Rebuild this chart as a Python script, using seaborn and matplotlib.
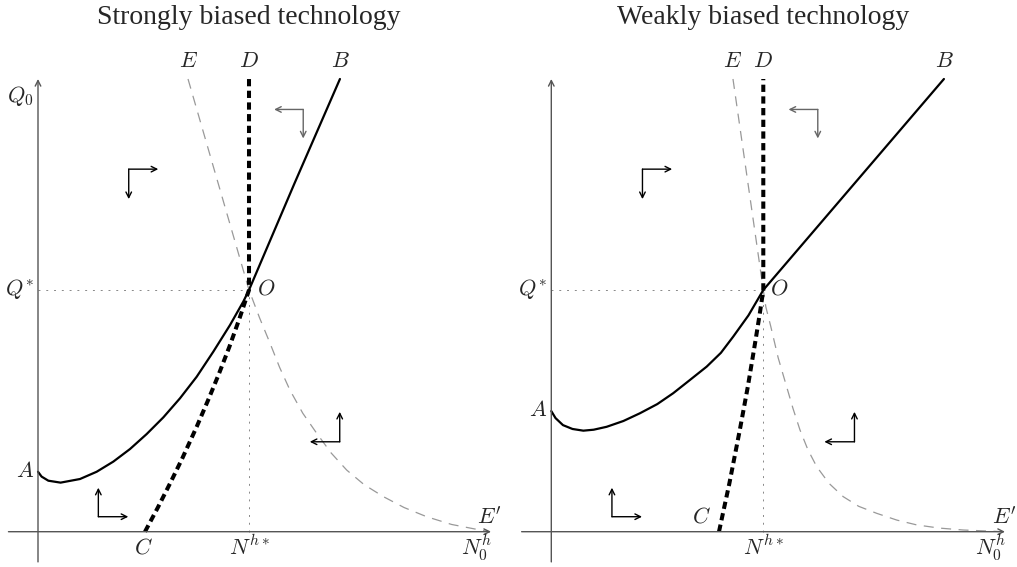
"""Phase diagrams for strongly vs weakly biased technology."""

import matplotlib
matplotlib.use('Agg')
import matplotlib.pyplot as plt
import seaborn as sns

sns.set_style('white')
plt.rcParams['mathtext.fontset'] = 'cm'
plt.rcParams['font.family'] = ['Liberation Serif', 'DejaVu Serif']

# ---- data (units: N^{h*} = 1 on x, Q* = 1 on y) ----
titles = ['Strongly biased technology', 'Weakly biased technology']

# solid curve A -> O -> B
strong_aob_x = [0, 0.017, 0.049, 0.107, 0.199, 0.278, 0.357, 0.436, 0.515, 0.594, 0.673,
                0.752, 0.831, 0.910, 0.973, 1.0, 1.215, 1.431]
strong_aob_y = [0.248, 0.228, 0.211, 0.203, 0.218, 0.248, 0.290, 0.342, 0.404, 0.473, 0.552,
                0.641, 0.745, 0.855, 0.952, 1.0, 1.44, 1.873]
weak_aob_x = [0, 0.02, 0.055, 0.1, 0.151, 0.2, 0.261, 0.34, 0.418, 0.5, 0.575, 0.65, 0.733,
              0.8, 0.858, 0.93, 1.0, 1.852]
weak_aob_y = [0.499, 0.47, 0.441, 0.425, 0.418, 0.422, 0.434, 0.458, 0.490, 0.528, 0.573,
              0.625, 0.683, 0.74, 0.807, 0.895, 1.0, 1.873]

# thick dashed curve C -> O -> D
strong_cod_x = [0.507, 0.568, 0.626, 0.682, 0.752, 0.809, 0.856, 0.907, 0.954, 1.0, 1.0]
strong_cod_y = [0, 0.1, 0.2, 0.3, 0.434, 0.55, 0.65, 0.765, 0.88, 1.0, 1.873]
weak_cod_x = [0.791, 0.840, 0.889, 0.927, 0.963, 0.983, 1.0, 1.0]
weak_cod_y = [0, 0.2, 0.42, 0.6, 0.79, 0.9, 1.0, 1.873]

# thin grey dashed curve E -> O -> E'
strong_eoe_x = [0.711, 1.0, 1.05, 1.10, 1.145, 1.194, 1.255, 1.321, 1.39, 1.463, 1.545,
                1.637, 1.735, 1.842, 1.96, 2.095, 2.142]
strong_eoe_y = [1.873, 1.0, 0.885, 0.779, 0.68, 0.586, 0.49, 0.407, 0.325, 0.255, 0.195,
                0.145, 0.1, 0.062, 0.03, 0.007, 0]
weak_eoe_x = [0.857, 1.0, 1.012, 1.035, 1.07, 1.110, 1.14, 1.173, 1.21, 1.252, 1.31, 1.377,
              1.45, 1.535, 1.63, 1.724, 1.83, 1.943, 2.13]
weak_eoe_y = [1.873, 1.0, 0.93, 0.85, 0.72, 0.600, 0.51, 0.421, 0.34, 0.269, 0.2, 0.145,
              0.105, 0.076, 0.048, 0.028, 0.015, 0.007, 0]

# direction glyphs: corner, horizontal and vertical arrow lengths
glyph_x = [0.43, 1.257, 0.286, 1.43]
glyph_y = [1.50, 1.747, 0.062, 0.372]
glyph_dx = [0.14, -0.138, 0.142, -0.142]
glyph_dy = [-0.124, -0.12, 0.12, 0.124]
glyph_col = ['black', '#666666', 'black', 'black']

# point labels: text, x, y
strong_labels = [
    (r'$E$', 0.711, 1.943), (r'$D$', 1.0, 1.943), (r'$B$', 1.431, 1.943),
    (r'$O$', 1.08, 1.0), (r'$C$', 0.498, -0.068), (r'$N^{h*}$', 1.0, -0.068),
    (r'$N_0^h$', 2.076, -0.068), (r"$E'$", 2.142, 0.057),
]
weak_labels = [
    (r'$E$', 0.857, 1.943), (r'$D$', 1.0, 1.943), (r'$B$', 1.852, 1.943),
    (r'$O$', 1.075, 1.0), (r'$C$', 0.709, 0.06), (r'$N^{h*}$', 1.0, -0.068),
    (r'$N_0^h$', 2.07, -0.068), (r"$E'$", 2.14, 0.057),
]
# labels left of the vertical axis: text, y
strong_side = [(r'$Q_0$', 1.803), (r'$Q^{*}$', 1.0), (r'$A$', 0.247)]
weak_side = [(r'$Q^{*}$', 1.0), (r'$A$', 0.499)]

W, H = 1017, 567
YLIM = (-0.146, 2.034)
ORIGIN_Y, SY = 531.7, 241.7


def draw_panel(ax, aob, cod, eoe, labels, side, x_end, xlim):
    axis_col = '#555555'
    # axes with arrow heads
    ax.annotate('', xy=(x_end, 0), xytext=(-0.14, 0),
                arrowprops=dict(arrowstyle='->', color=axis_col, lw=1.0, shrinkA=0, shrinkB=0))
    ax.annotate('', xy=(0, 1.873), xytext=(0, -0.125),
                arrowprops=dict(arrowstyle='->', color=axis_col, lw=1.0, shrinkA=0, shrinkB=0))
    # steady-state guides
    ax.plot([0, 1], [1, 1], color='#888888', lw=0.7, linestyle=(0, (2, 6)))
    ax.plot([1, 1], [0, 1], color='#888888', lw=0.7, linestyle=(0, (2, 6)))

    sns.lineplot(x=eoe[0], y=eoe[1], ax=ax, sort=False, estimator=None,
                 color='#999999', lw=0.9, linestyle=(0, (8, 6)))
    sns.lineplot(x=aob[0], y=aob[1], ax=ax, sort=False, estimator=None,
                 color='black', lw=1.6)
    sns.lineplot(x=cod[0], y=cod[1], ax=ax, sort=False, estimator=None,
                 color='black', lw=2.9, linestyle=(0, (1.8, 1.1)))

    for gx, gy, dx, dy, c in zip(glyph_x, glyph_y, glyph_dx, glyph_dy, glyph_col):
        for tip in [(gx + dx, gy), (gx, gy + dy)]:
            ax.annotate('', xy=tip, xytext=(gx, gy),
                        arrowprops=dict(arrowstyle='->', color=c, lw=1.0,
                                        shrinkA=0, shrinkB=0))

    for txt, x, y in labels:
        ax.text(x, y, txt, fontsize=16, ha='center', va='center')
    for txt, y in side:
        ax.text(-0.02, y, txt, fontsize=16, ha='right', va='center')

    ax.set_xlim(xlim)
    ax.set_ylim(YLIM)
    ax.set_axis_off()


fig = plt.figure(figsize=(W / 100, H / 100), dpi=100)

# left panel: origin at px (38, 531.7), right panel at px (551.3, 531.7)
panels = [
    dict(px=(0, 508), ox=38.0, sx=211.0, aob=(strong_aob_x, strong_aob_y),
         cod=(strong_cod_x, strong_cod_y), eoe=(strong_eoe_x, strong_eoe_y),
         labels=strong_labels, side=strong_side, x_end=2.147),
    dict(px=(509, 1017), ox=551.3, sx=212.0, aob=(weak_aob_x, weak_aob_y),
         cod=(weak_cod_x, weak_cod_y), eoe=(weak_eoe_x, weak_eoe_y),
         labels=weak_labels, side=weak_side, x_end=2.14),
]
top_px = ORIGIN_Y - YLIM[1] * SY
bot_px = ORIGIN_Y - YLIM[0] * SY
for title, p in zip(titles, panels):
    p0, p1 = p['px']
    ax = fig.add_axes([p0 / W, 1 - bot_px / H, (p1 - p0) / W, (bot_px - top_px) / H])
    xlim = ((p0 - p['ox']) / p['sx'], (p1 - p['ox']) / p['sx'])
    draw_panel(ax, p['aob'], p['cod'], p['eoe'], p['labels'], p['side'], p['x_end'], xlim)
    fig.text((p['ox'] + p['sx']) / W, 1 - 18 / H, title, fontsize=20,
             ha='center', va='center')

fig.savefig('out.png', dpi=100)
